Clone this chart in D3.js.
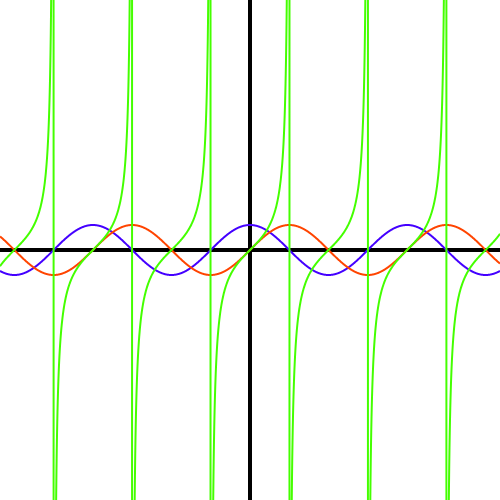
<!DOCTYPE html>
<html><head><meta charset="utf-8">
<script src="https://cdn.jsdelivr.net/npm/d3@7"></script>
<style>html,body{margin:0;padding:0;background:#fff}svg{display:block}</style>
</head><body>
<script>
// Plotted functions (name, colour) and sampling domain
const seriesNames = ["cos", "sin", "tan"];
const seriesColors = ["#4400ff", "#ff4400", "#44ff00"];
const xDomain = [-10, 10];
const yDomain = [-10, 10];
const sampleStep = 0.01;

const W = 500, H = 500;
const x = d3.scaleLinear().domain(xDomain).range([0, W]);
const y = d3.scaleLinear().domain(yDomain).range([H, 0]);

const svg = d3.select("body").append("svg").attr("width", W).attr("height", H);

// axes
svg.append("line").attr("x1", 0).attr("x2", W).attr("y1", y(0)).attr("y2", y(0))
  .attr("stroke", "#000").attr("stroke-width", 4);
svg.append("line").attr("x1", x(0)).attr("x2", x(0)).attr("y1", 0).attr("y2", H)
  .attr("stroke", "#000").attr("stroke-width", 4);

const xs = d3.range(xDomain[0], xDomain[1] + sampleStep / 2, sampleStep);
const fns = {cos: Math.cos, sin: Math.sin, tan: Math.tan};
const line = d3.line().x(d => x(d[0])).y(d => y(d[1]));

seriesNames.forEach((name, i) => {
  const pts = xs.map(v => [v, fns[name](v)]);
  svg.append("path").datum(pts).attr("d", line)
    .attr("fill", "none").attr("stroke", seriesColors[i]).attr("stroke-width", 2);
});
</script>
</body></html>
